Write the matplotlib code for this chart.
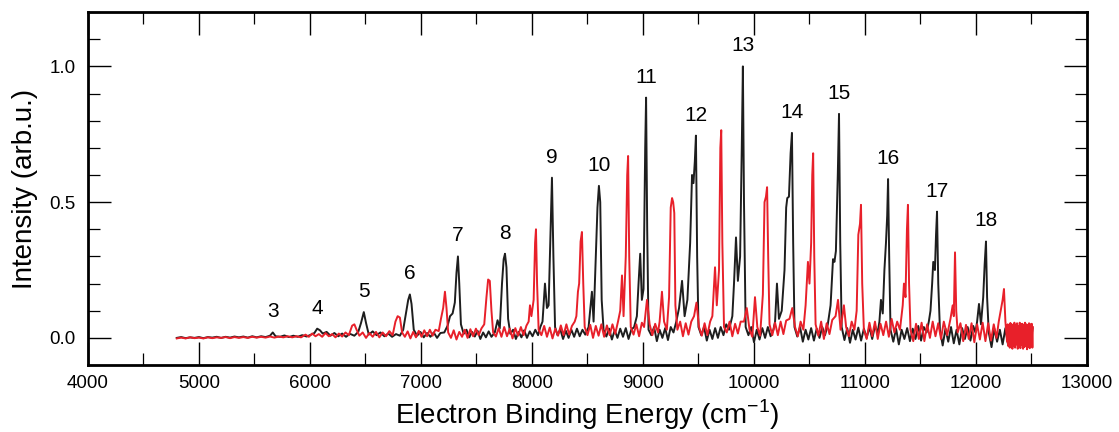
import numpy as np
import matplotlib
matplotlib.use("Agg")
import matplotlib.pyplot as plt
from matplotlib.ticker import MultipleLocator, FormatStrFormatter

plt.rcParams["font.family"] = ["Liberation Sans", "DejaVu Sans"]
plt.rcParams["mathtext.fontset"] = "custom"
plt.rcParams["mathtext.rm"] = "Liberation Sans"

# photoelectron spectrum, two traces: (binding energy cm^-1, intensity)
black_trace = [
    (4800, 0.000), (4840, 0.003), (4880, -0.001), (4920, 0.002), (4960, 0.000), (5000, 0.003),
    (5040, -0.001), (5080, 0.003), (5120, 0.001), (5160, 0.004), (5200, 0.000), (5240, 0.004),
    (5280, 0.001), (5320, 0.005), (5360, 0.002), (5400, 0.005), (5440, 0.001), (5480, 0.006),
    (5520, 0.002), (5560, 0.006), (5600, 0.003), (5640, 0.008), (5665, 0.020), (5690, 0.006),
    (5730, 0.004), (5770, 0.009), (5810, 0.003), (5850, 0.008), (5890, 0.004), (5930, 0.010),
    (5970, 0.005), (6010, 0.012), (6040, 0.018), (6065, 0.034), (6090, 0.028), (6115, 0.016),
    (6150, 0.022), (6185, 0.008), (6220, 0.018), (6255, 0.006), (6290, 0.016), (6325, 0.004),
    (6360, 0.015), (6400, 0.008), (6435, 0.022), (6460, 0.055), (6485, 0.095), (6505, 0.055),
    (6530, 0.012), (6565, 0.024), (6600, 0.010), (6635, 0.020), (6670, 0.006), (6705, 0.016),
    (6740, 0.004), (6775, 0.014), (6810, 0.008), (6840, 0.030), (6865, 0.090), (6885, 0.140),
    (6900, 0.160), (6915, 0.125), (6935, 0.030), (6965, 0.008), (6995, 0.022), (7025, 0.002),
    (7055, 0.018), (7085, 0.004), (7115, 0.020), (7145, 0.000), (7175, 0.018), (7210, 0.020),
    (7240, 0.045), (7262, 0.080), (7285, 0.090), (7305, 0.130), (7320, 0.240), (7333, 0.300),
    (7345, 0.200), (7360, 0.050), (7385, 0.015), (7410, 0.030), (7435, 0.002), (7460, 0.022),
    (7485, 0.005), (7510, 0.026), (7535, -0.004), (7560, 0.020), (7585, 0.002), (7610, 0.024),
    (7635, 0.004), (7665, 0.020), (7690, 0.065), (7710, 0.035), (7730, 0.200), (7745, 0.290),
    (7757, 0.310), (7770, 0.260), (7785, 0.070), (7805, 0.015), (7830, 0.030), (7855, -0.004),
    (7880, 0.022), (7905, 0.002), (7930, 0.028), (7955, 0.000), (7980, 0.024), (8005, 0.006),
    (8030, 0.030), (8055, 0.010), (8075, 0.040), (8095, 0.060), (8117, 0.200), (8135, 0.110),
    (8150, 0.120), (8165, 0.350), (8180, 0.590), (8193, 0.300), (8208, 0.040), (8230, 0.010),
    (8255, 0.032), (8280, -0.004), (8305, 0.026), (8330, 0.000), (8355, 0.030), (8380, 0.004),
    (8405, 0.034), (8430, 0.006), (8455, 0.030), (8480, 0.012), (8510, 0.040), (8540, 0.170),
    (8555, 0.060), (8575, 0.300), (8590, 0.480), (8603, 0.560), (8615, 0.500), (8628, 0.140),
    (8645, 0.030), (8670, 0.005), (8695, 0.034), (8720, -0.006), (8745, 0.028), (8770, 0.000),
    (8795, 0.034), (8820, 0.004), (8845, 0.036), (8870, -0.004), (8895, 0.030), (8920, 0.040),
    (8945, 0.080), (8960, 0.200), (8975, 0.310), (8990, 0.140), (9005, 0.180), (9020, 0.700),
    (9028, 0.885), (9038, 0.400), (9050, 0.030), (9075, 0.010), (9100, 0.040), (9125, -0.012),
    (9150, 0.030), (9175, 0.000), (9200, 0.036), (9225, -0.008), (9250, 0.040), (9275, 0.020),
    (9300, 0.060), (9325, 0.110), (9352, 0.210), (9375, 0.080), (9400, 0.140), (9425, 0.350),
    (9442, 0.600), (9455, 0.570), (9467, 0.650), (9477, 0.745), (9488, 0.300), (9500, 0.040),
    (9525, 0.010), (9550, 0.040), (9575, -0.010), (9600, 0.030), (9625, -0.004), (9650, 0.036),
    (9675, 0.000), (9700, 0.040), (9725, 0.010), (9750, 0.050), (9775, 0.030), (9805, 0.080),
    (9820, 0.200), (9838, 0.370), (9855, 0.210), (9875, 0.300), (9890, 0.700), (9900, 1.000),
    (9910, 0.500), (9925, 0.040), (9950, 0.010), (9975, 0.040), (10000, -0.016), (10025, 0.030),
    (10050, -0.006), (10075, 0.036), (10100, 0.000), (10125, 0.040), (10150, 0.006), (10175, 0.030),
    (10190, 0.060), (10207, 0.200), (10225, 0.070), (10250, 0.100), (10275, 0.250), (10290, 0.480),
    (10300, 0.515), (10315, 0.520), (10330, 0.680), (10342, 0.755), (10353, 0.350), (10365, 0.040),
    (10390, 0.005), (10415, 0.040), (10440, -0.014), (10465, 0.030), (10490, -0.006), (10515, 0.036),
    (10540, -0.010), (10565, 0.034), (10590, 0.000), (10615, 0.040), (10640, 0.010), (10665, 0.050),
    (10690, 0.120), (10712, 0.290), (10725, 0.280), (10738, 0.320), (10755, 0.600), (10766, 0.825),
    (10777, 0.350), (10790, 0.040), (10815, -0.008), (10840, 0.036), (10865, -0.018), (10890, 0.030),
    (10915, -0.006), (10940, 0.038), (10965, -0.010), (10990, 0.034), (11015, 0.000), (11040, 0.040),
    (11065, -0.004), (11090, 0.044), (11115, 0.020), (11130, 0.060), (11144, 0.140), (11160, 0.090),
    (11175, 0.250), (11189, 0.350), (11200, 0.450), (11208, 0.585), (11218, 0.300), (11230, 0.030),
    (11255, -0.014), (11280, 0.034), (11305, -0.024), (11330, 0.030), (11355, -0.004), (11380, 0.036),
    (11405, -0.012), (11430, 0.034), (11455, -0.004), (11480, 0.044), (11505, -0.010), (11530, 0.040),
    (11555, 0.020), (11575, 0.060), (11590, 0.100), (11605, 0.200), (11615, 0.280), (11630, 0.250),
    (11640, 0.380), (11649, 0.465), (11660, 0.200), (11675, 0.030), (11700, -0.028), (11725, 0.034),
    (11750, -0.014), (11775, 0.040), (11800, -0.020), (11825, 0.030), (11850, -0.024), (11875, 0.036),
    (11900, -0.004), (11925, 0.040), (11950, -0.010), (11975, 0.044), (11995, 0.020), (12010, 0.060),
    (12027, 0.125), (12045, 0.050), (12065, 0.150), (12078, 0.270), (12090, 0.355), (12100, 0.150),
    (12115, 0.020), (12140, -0.034), (12165, 0.034), (12190, -0.014), (12215, 0.030), (12240, -0.024),
    (12265, 0.036), (12290, -0.028), (12315, 0.040), (12340, -0.020), (12365, 0.040), (12390, -0.024),
    (12415, 0.044), (12440, -0.018), (12465, 0.040), (12490, -0.024), (12510, 0.036),
]

red_trace = [
    (4800, -0.002), (4840, 0.001), (4880, -0.002), (4920, 0.002), (4960, -0.001), (5000, 0.001),
    (5040, -0.002), (5080, 0.002), (5120, -0.001), (5160, 0.002), (5200, 0.000), (5240, 0.003),
    (5280, -0.001), (5320, 0.003), (5360, 0.000), (5400, 0.003), (5440, 0.000), (5480, 0.004),
    (5520, 0.001), (5560, 0.004), (5600, 0.001), (5640, 0.005), (5680, 0.001), (5720, 0.005),
    (5760, 0.002), (5800, 0.006), (5840, 0.002), (5880, 0.006), (5920, 0.002), (5960, 0.012),
    (5990, 0.004), (6020, 0.016), (6050, 0.006), (6080, 0.014), (6110, 0.004), (6140, 0.018),
    (6170, 0.006), (6200, 0.014), (6230, 0.002), (6260, 0.016), (6290, 0.005), (6320, 0.020),
    (6350, 0.010), (6380, 0.045), (6400, 0.050), (6420, 0.030), (6445, 0.008), (6475, 0.020),
    (6505, 0.000), (6535, 0.018), (6565, 0.004), (6595, 0.022), (6625, 0.002), (6655, 0.020),
    (6685, 0.006), (6715, 0.025), (6745, 0.010), (6770, 0.060), (6790, 0.080), (6810, 0.075),
    (6830, 0.020), (6855, 0.004), (6880, 0.024), (6905, -0.002), (6930, 0.022), (6955, 0.002),
    (6980, 0.026), (7005, 0.004), (7030, 0.028), (7055, 0.006), (7080, 0.030), (7105, 0.008),
    (7130, 0.030), (7160, 0.025), (7180, 0.070), (7200, 0.110), (7216, 0.170), (7230, 0.110),
    (7245, 0.020), (7270, 0.000), (7295, 0.028), (7320, -0.006), (7345, 0.022), (7370, 0.004),
    (7395, 0.030), (7420, 0.000), (7445, 0.032), (7470, 0.006), (7495, 0.034), (7520, 0.010),
    (7545, 0.035), (7570, 0.050), (7590, 0.150), (7605, 0.215), (7620, 0.210), (7635, 0.100),
    (7650, 0.020), (7675, 0.005), (7700, 0.036), (7725, 0.004), (7750, 0.040), (7775, 0.006),
    (7800, 0.034), (7825, -0.002), (7850, 0.036), (7875, 0.008), (7900, 0.040), (7925, 0.010),
    (7950, 0.045), (7970, 0.060), (7982, 0.120), (7995, 0.080), (8015, 0.140), (8028, 0.350),
    (8036, 0.400), (8046, 0.200), (8060, 0.030), (8085, 0.010), (8110, 0.044), (8135, 0.004),
    (8160, 0.038), (8185, -0.002), (8210, 0.034), (8235, 0.008), (8260, 0.046), (8285, 0.010),
    (8310, 0.050), (8335, 0.012), (8360, 0.044), (8385, 0.060), (8400, 0.080), (8414, 0.170),
    (8425, 0.200), (8438, 0.355), (8450, 0.390), (8462, 0.200), (8475, 0.040), (8500, 0.010),
    (8525, 0.048), (8550, 0.000), (8575, 0.044), (8600, 0.008), (8625, 0.050), (8650, 0.004),
    (8675, 0.046), (8700, 0.010), (8725, 0.050), (8750, 0.015), (8775, 0.060), (8795, 0.100),
    (8811, 0.230), (8825, 0.080), (8845, 0.300), (8858, 0.600), (8866, 0.670), (8876, 0.300),
    (8890, 0.040), (8915, 0.012), (8940, 0.050), (8965, 0.006), (8990, 0.056), (9010, 0.040),
    (9036, 0.140), (9060, 0.050), (9085, 0.010), (9110, 0.052), (9135, 0.020), (9150, 0.060),
    (9171, 0.170), (9190, 0.060), (9215, 0.030), (9235, 0.150), (9250, 0.480), (9262, 0.515),
    (9272, 0.500), (9282, 0.460), (9292, 0.120), (9310, 0.030), (9335, 0.060), (9360, 0.006),
    (9385, 0.054), (9410, 0.012), (9435, 0.060), (9460, 0.080), (9482, 0.130), (9505, 0.040),
    (9530, 0.008), (9555, 0.054), (9580, 0.010), (9605, 0.060), (9625, 0.080), (9649, 0.260),
    (9665, 0.120), (9685, 0.250), (9697, 0.700), (9705, 0.765), (9715, 0.350), (9730, 0.040),
    (9755, 0.020), (9780, 0.060), (9805, 0.006), (9830, 0.052), (9855, 0.016), (9880, 0.060),
    (9910, 0.060), (9935, 0.110), (9960, 0.030), (9985, 0.004), (10009, 0.150), (10030, 0.040),
    (10055, 0.008), (10080, 0.160), (10095, 0.500), (10108, 0.520), (10118, 0.555), (10128, 0.300),
    (10140, 0.050), (10165, 0.010), (10190, 0.056), (10215, 0.010), (10240, 0.060), (10265, 0.014),
    (10290, 0.064), (10320, 0.070), (10345, 0.110), (10370, 0.040), (10395, 0.006), (10420, 0.060),
    (10445, 0.030), (10465, 0.120), (10486, 0.280), (10500, 0.200), (10515, 0.350), (10525, 0.600),
    (10533, 0.680), (10543, 0.300), (10555, 0.050), (10580, 0.008), (10605, 0.060), (10630, -0.004),
    (10655, 0.054), (10680, 0.014), (10705, 0.066), (10735, 0.080), (10757, 0.140), (10780, 0.030),
    (10810, 0.120), (10830, 0.040), (10855, 0.006), (10880, 0.060), (10905, 0.030), (10925, 0.100),
    (10940, 0.380), (10955, 0.420), (10964, 0.490), (10975, 0.200), (10990, 0.030), (11015, -0.004),
    (11040, 0.056), (11065, 0.006), (11090, 0.060), (11115, -0.004), (11140, 0.052), (11165, 0.010),
    (11190, 0.060), (11215, 0.004), (11240, 0.070), (11265, 0.020), (11290, 0.060), (11315, 0.030),
    (11340, 0.120), (11351, 0.200), (11365, 0.150), (11378, 0.400), (11387, 0.490), (11397, 0.200),
    (11410, 0.030), (11435, -0.012), (11460, 0.052), (11485, -0.004), (11510, 0.056), (11535, -0.012),
    (11560, 0.050), (11585, 0.000), (11610, 0.060), (11635, 0.006), (11660, 0.054), (11685, -0.004),
    (11710, 0.060), (11740, 0.010), (11770, 0.070), (11790, 0.120), (11800, 0.080), (11811, 0.315),
    (11822, 0.100), (11835, 0.020), (11860, 0.054), (11885, -0.012), (11910, 0.048), (11935, -0.004),
    (11960, 0.054), (11985, -0.016), (12010, 0.050), (12035, -0.006), (12060, 0.056), (12085, -0.012),
    (12110, 0.054), (12135, -0.010), (12160, 0.050), (12185, 0.000), (12205, 0.060), (12222, 0.100),
    (12240, 0.140), (12252, 0.180), (12265, 0.060), (12280, -0.014), (12286, 0.050), (12292, -0.030),
    (12298, 0.045), (12304, -0.036), (12310, 0.055), (12316, -0.020), (12322, 0.050), (12328, -0.040),
    (12334, 0.040), (12340, -0.030), (12346, 0.056), (12352, -0.036), (12358, 0.048), (12364, -0.024),
    (12370, 0.054), (12376, -0.040), (12382, 0.044), (12388, -0.032), (12394, 0.056), (12400, -0.038),
    (12406, 0.050), (12412, -0.026), (12418, 0.052), (12424, -0.040), (12430, 0.046), (12436, -0.034),
    (12442, 0.056), (12448, -0.030), (12454, 0.050), (12460, -0.042), (12466, 0.048), (12472, -0.034),
    (12478, 0.054), (12484, -0.038), (12490, 0.050), (12496, -0.030), (12502, 0.052), (12508, -0.036),
    (12512, 0.040),
]

# vibrational progression labels and the black-peak energies they sit on
peak_numbers = [3, 4, 5, 6, 7, 8, 9, 10, 11, 12, 13, 14, 15, 16, 17, 18]
peak_energies = [5665, 6065, 6485, 6900, 7333, 7757, 8180, 8603, 9028, 9477,
                 9900, 10342, 10766, 11208, 11649, 12090]

black_e, black_i = np.array(black_trace).T
red_e, red_i = np.array(red_trace).T

fig = plt.figure(figsize=(11.19, 4.32), dpi=100)
ax = fig.add_axes([0.0786, 0.155, 0.8928, 0.817])

ax.plot(black_e, black_i, color="#1e1e1e", lw=1.4)
ax.plot(red_e, red_i, color="#e8202a", lw=1.4)

for n, e in zip(peak_numbers, peak_energies):
    near = np.abs(black_e - e) <= 40
    top = black_i[near].max()
    ax.annotate(str(n), xy=(e, top), xytext=(0, 8), textcoords="offset points",
                ha="center", va="bottom", fontsize=15)

ax.set_xlim(4000, 13000)
ax.set_ylim(-0.1, 1.2)
ax.xaxis.set_major_locator(MultipleLocator(1000))
ax.xaxis.set_minor_locator(MultipleLocator(500))
ax.yaxis.set_major_locator(MultipleLocator(0.5))
ax.yaxis.set_minor_locator(MultipleLocator(0.1))
ax.yaxis.set_major_formatter(FormatStrFormatter("%.1f"))

ax.tick_params(which="both", direction="in", top=True, right=True, labelsize=13.5)
ax.tick_params(which="major", length=16.5, width=1.0)
ax.tick_params(which="minor", length=8.5, width=0.9)
ax.tick_params(axis="x", pad=7)
ax.tick_params(axis="y", pad=9)
for s in ax.spines.values():
    s.set_linewidth(2.0)

ax.set_xlabel("Electron Binding Energy (cm$^{-1}$)", fontsize=20, labelpad=4)
ax.set_ylabel("Intensity (arb.u.)", fontsize=20, labelpad=8)

fig.savefig("out.png", dpi=100)
